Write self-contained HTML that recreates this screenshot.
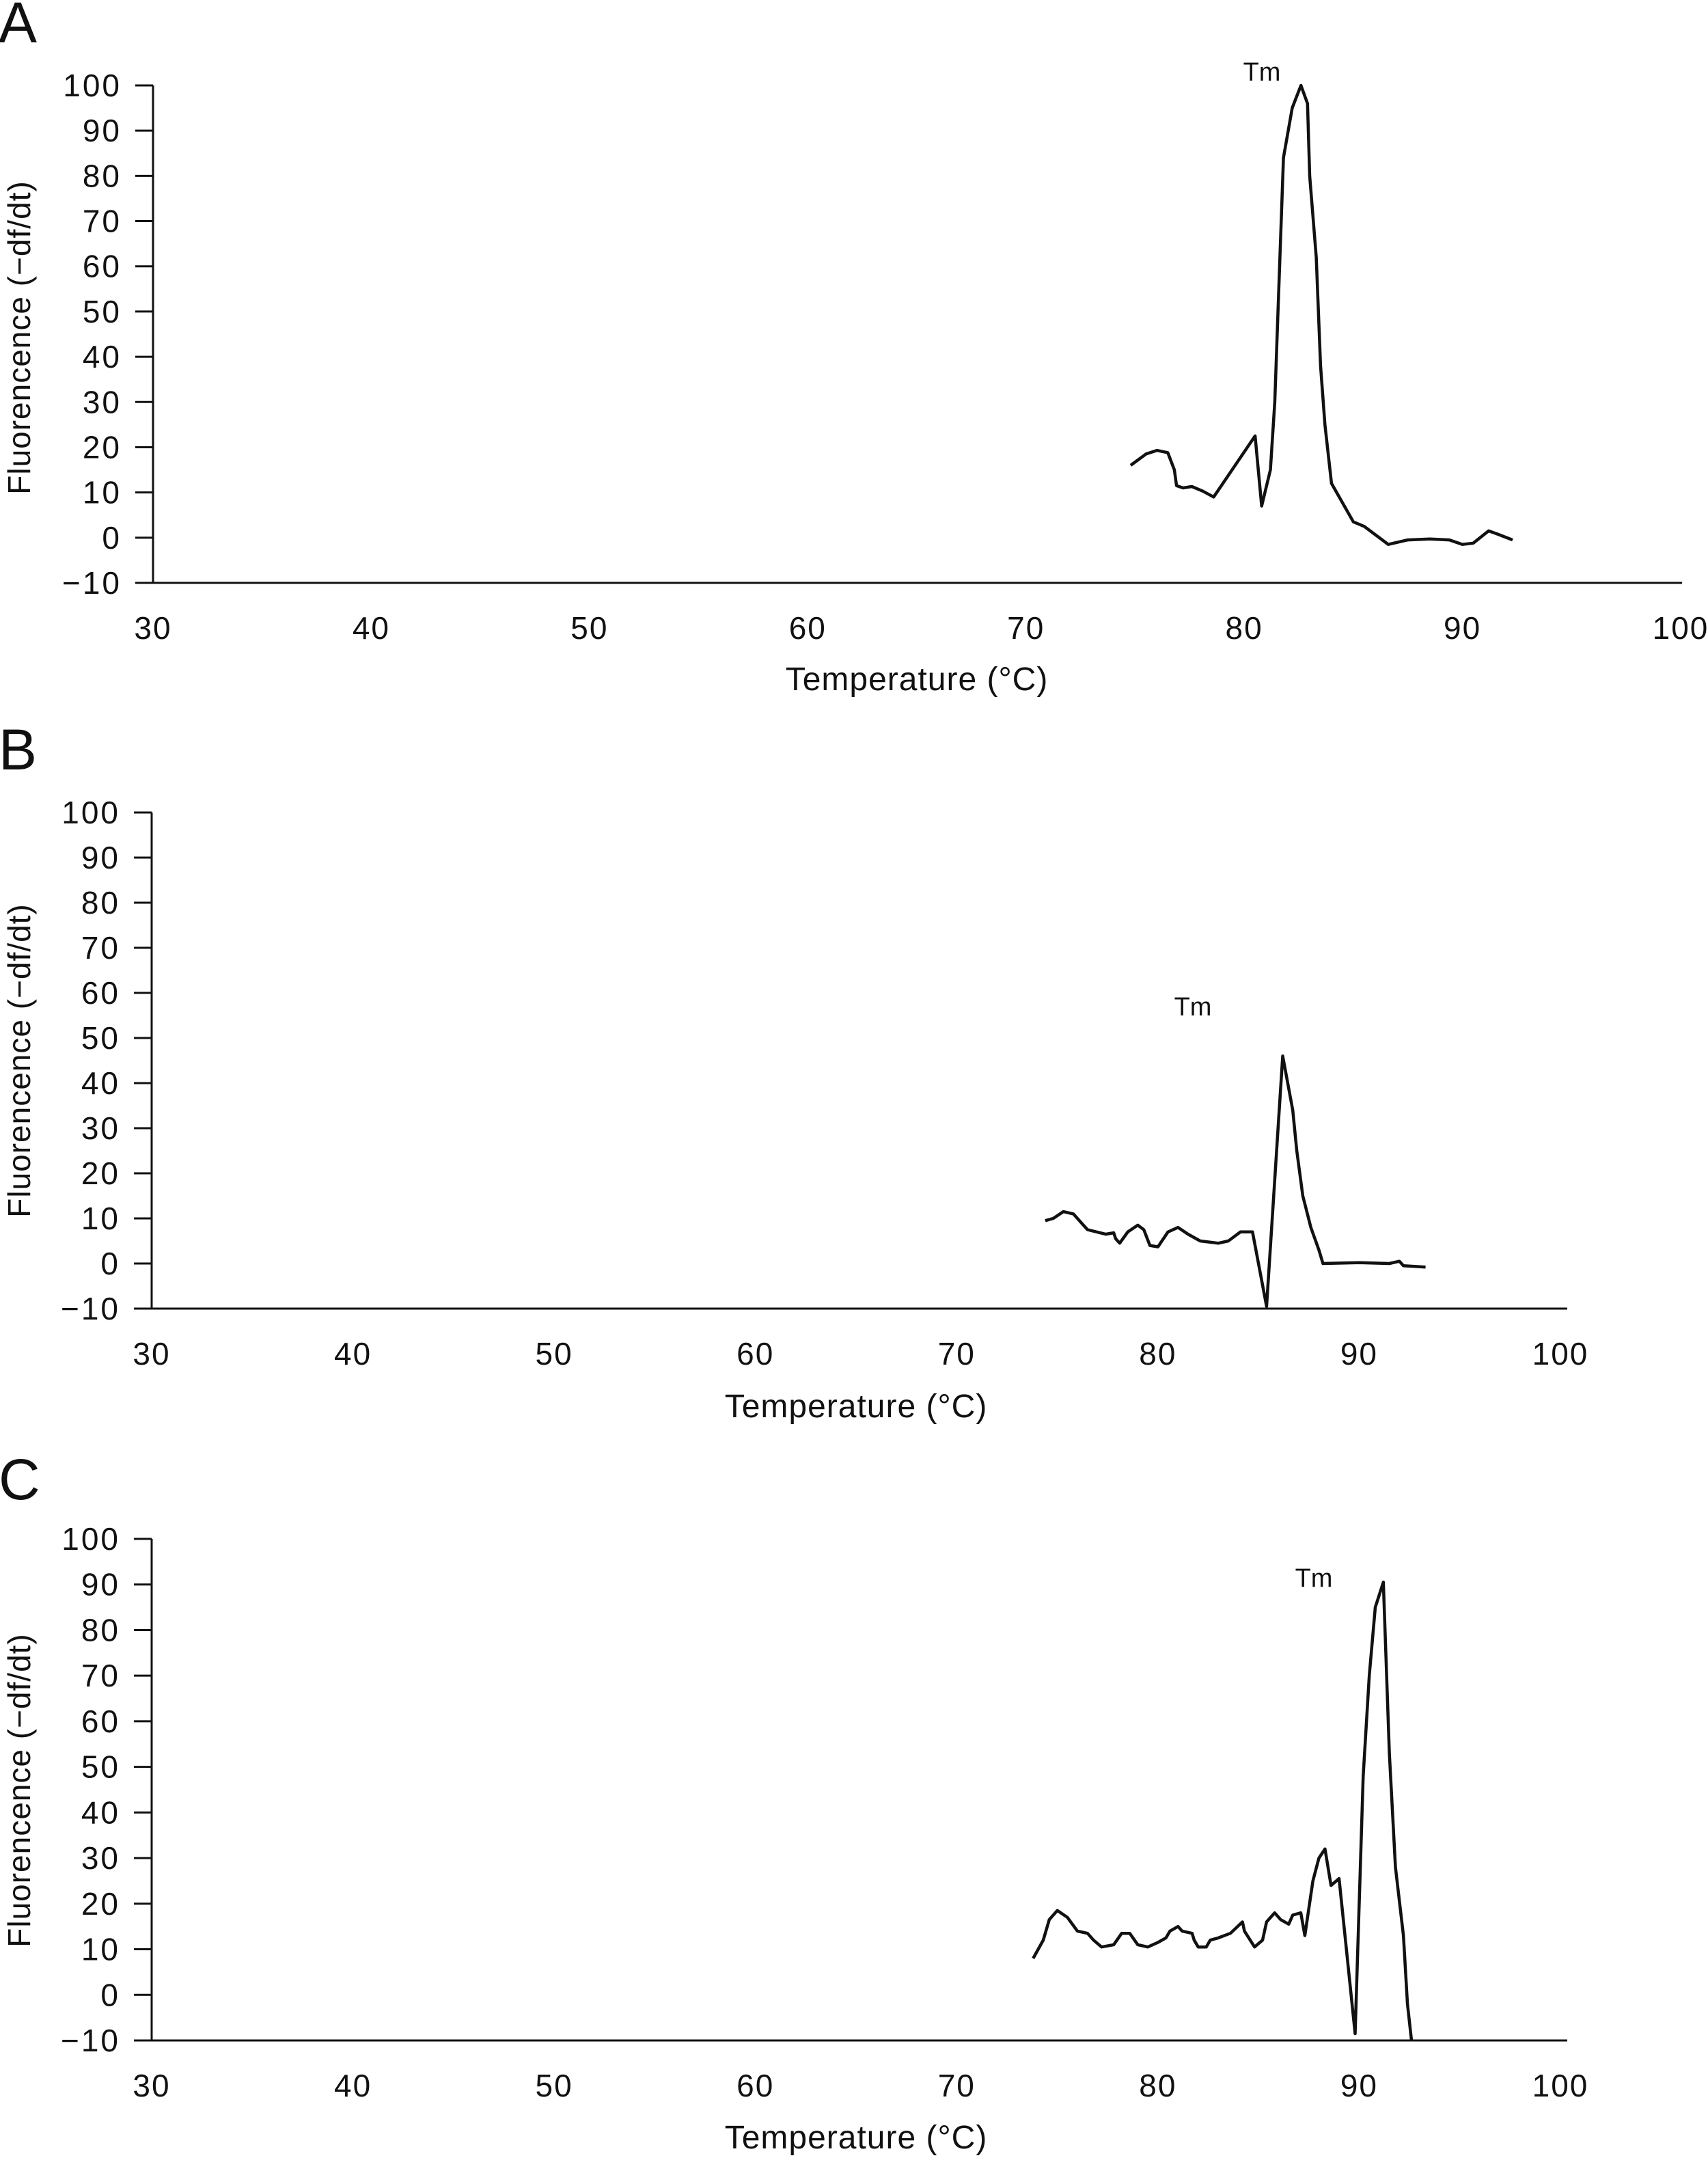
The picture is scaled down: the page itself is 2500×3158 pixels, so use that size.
<!DOCTYPE html>
<html><head><meta charset="utf-8"><style>
html,body{margin:0;padding:0;background:#fff;}
svg{display:block;}
text{font-family:"Liberation Sans",sans-serif;fill:#111;}
</style></head><body>
<svg id="fig" width="2500" height="3158" viewBox="0 0 2500 3158" xmlns="http://www.w3.org/2000/svg"></svg>
<script>
const xTicks = [30,40,50,60,70,80,90,100];
const yTicks = [100,90,80,70,60,50,40,30,20,10,0,-10];
const yTickLabels = ["100","90","80","70","60","50","40","30","20","10","0","\u221210"];
const tempA = [74.8,75.5,76,76.5,76.8,76.9,77.2,77.6,78.1,78.6,80.5,80.8,81.2,81.4,81.8,82.2,82.6,82.9,83.0,83.3,83.5,83.7,84.0,85,85.5,86.6,87.5,88.5,89.4,90,90.5,91.2,91.6,92.3];
const fluorA = [16,18.5,19.3,18.8,15,11.5,11,11.3,10.3,9,22.5,7,15,30,84,95,100,96,80,62,38,25,12,3.5,2.5,-1.5,-0.5,-0.3,-0.5,-1.5,-1.2,1.5,0.8,-0.5];
const tempB = [74.4,74.8,75.3,75.8,76.2,76.5,77.4,77.8,77.9,78.1,78.5,79,79.3,79.6,80,80.5,81,81.5,82.1,83,83.5,84.1,84.7,85.4,86.2,86.7,86.9,87.2,87.6,88.0,88.2,90,91.5,92,92.2,93.3];
const fluorB = [9.5,10,11.5,11,9,7.5,6.5,6.8,5.5,4.5,7,8.5,7.5,4,3.7,7,8,6.5,5,4.5,5,7,7,-9.5,46,34,25,15,8,3,0,0.2,0,0.5,-0.5,-0.8];
const tempC = [73.8,74.3,74.6,75,75.5,76,76.5,76.8,77.2,77.8,78.2,78.6,79,79.5,80,80.4,80.6,81,81.2,81.7,81.8,82,82.4,82.6,83,83.6,84.2,84.3,84.8,85.2,85.4,85.8,86.1,86.5,86.7,87.1,87.3,87.7,88,88.3,88.6,89,89.8,90.2,90.5,90.8,91.2,91.5,91.8,92.2,92.4,92.6];
const fluorC = [8,12,16.5,18.5,17,14,13.5,12,10.5,11,13.5,13.5,11,10.5,11.5,12.5,14,15,14,13.5,12,10.5,10.5,12,12.5,13.5,16,14,10.5,12,16,18,16.5,15.5,17.5,18,13,25,30,32,24,25.5,-8.5,48,70,85,90.5,53,28,13,-2,-10];

const NS="http://www.w3.org/2000/svg";
const svg=document.getElementById('fig');
function mk(tag,attrs,parent){const e=document.createElementNS(NS,tag);for(const k in attrs)e.setAttribute(k,attrs[k]);(parent||svg).appendChild(e);return e;}

const panels=[
 {letter:"A",ly:62,x0:224,x1:2460,axEnd:2462,yTop:125,yBot:853,temp:tempA,fl:fluorA,tm:[1847,118],yt:494,xty:1010},
 {letter:"B",ly:1126,x0:222,x1:2284,axEnd:2294,yTop:1189,yBot:1915,temp:tempB,fl:fluorB,tm:[1746,1486],yt:1552,xty:2074},
 {letter:"C",ly:2194,x0:222,x1:2284,axEnd:2294,yTop:2252,yBot:2986,temp:tempC,fl:fluorC,tm:[1923,2322],yt:2620,xty:3144}
];
panels.forEach((p,i)=>{
 const g=mk('g',{});
 
 
 const xs=v=>p.x0+(v-30)/70*(p.x1-p.x0);
 const ys=v=>p.yBot-(v+10)/110*(p.yBot-p.yTop);
 const L=mk('text',{x:-2,y:p.ly,'font-size':84},g);L.textContent=p.letter;
 
 const ya=mk('line',{x1:p.x0,y1:p.yTop,x2:p.x0,y2:p.yBot,stroke:'#111','stroke-width':3},g);
 
 const xa=mk('line',{x1:p.x0-26,y1:p.yBot,x2:p.axEnd,y2:p.yBot,stroke:'#111','stroke-width':3},g);
 
 yTicks.forEach((v,j)=>{
  const y=ys(v);
  mk('line',{x1:p.x0-26,y1:y,x2:p.x0,y2:y,stroke:'#111','stroke-width':3},g);
  const t=mk('text',{x:p.x0-46,y:y+16,'font-size':46,'letter-spacing':3,'text-anchor':'end'},g);t.textContent=yTickLabels[j];
  
 });
 xTicks.forEach(v=>{
  const t=mk('text',{x:xs(v),y:p.yBot+82,'font-size':46,'letter-spacing':2,'text-anchor':'middle'},g);t.textContent=String(v);
  
 });
 const xt=mk('text',{x:xs(30)+(p.x1-p.x0)*0.5,y:p.xty,'font-size':48,'letter-spacing':1,'text-anchor':'middle'},g);xt.textContent='Temperature (\u00b0C)';
 
 const yt=mk('text',{x:0,y:0,'font-size':46,'letter-spacing':1,'text-anchor':'middle',transform:`translate(44,${p.yt}) rotate(-90)`},g);yt.textContent='Fluorencence (\u2212df/dt)';
 
 const d=p.temp.map((t,k)=>(k?'L':'M')+xs(t).toFixed(1)+' '+ys(p.fl[k]).toFixed(1)).join(' ');
 const path=mk('path',{d:d,fill:'none',stroke:'#111','stroke-width':4.5,'stroke-linejoin':'round'},g);
 
 const tm=mk('text',{x:p.tm[0],y:p.tm[1],'font-size':38,'text-anchor':'middle'},g);tm.textContent='Tm';
 
});
</script>
</body></html>
